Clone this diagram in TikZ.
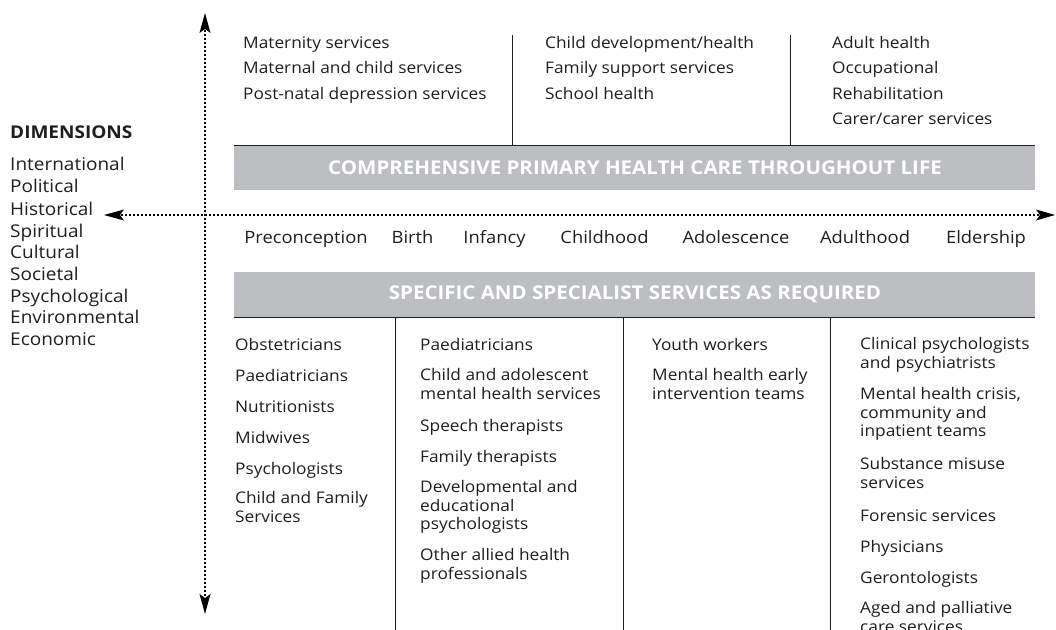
\documentclass[tikz,border=0pt]{standalone}
\usepackage{fontspec}
\setmainfont[FakeStretch=1.08]{Open Sans}
\usetikzlibrary{arrows.meta}
\definecolor{band}{RGB}{189,190,193}
\definecolor{ink}{RGB}{30,30,30}
\begin{document}
\begin{tikzpicture}[x=1pt,y=-1pt,
  base/.style={inner sep=0pt,text=ink,font=\fontsize{16}{18.8}\selectfont,align=left},
  txt/.style={base,anchor=west,text height=14pt,text depth=2pt},
  mtxt/.style={base,anchor=north west},
  dim/.style={anchor=west,inner sep=0pt,text=ink,font=\fontsize{17.6}{20}\selectfont,text height=15pt,text depth=2pt},
  stage/.style={anchor=center,inner sep=0pt,text=ink,font=\fontsize{17}{20}\selectfont,text height=15pt,text depth=2pt},
  bandtxt/.style={text=white,font=\bfseries\fontsize{19}{22}\selectfont,inner sep=0pt},
  axis/.style={line width=2.8pt,dash pattern=on 2.2pt off 1.8pt,black},
  sep/.style={line width=1pt,ink}]
\useasboundingbox (0,0) rectangle (1056,629);
\clip (0,0) rectangle (1056,629);
% bands
\fill[band] (234,145) rectangle (1035,190);
\fill[band] (234,272) rectangle (1035,317);
\node[bandtxt] (b1) at (635,167.5) {COMPREHENSIVE PRIMARY HEALTH CARE THROUGHOUT LIFE};
\node[bandtxt] (b2) at (635,294.5) {SPECIFIC AND SPECIALIST SERVICES AS REQUIRED};
% separators
\draw[sep] (234,145) -- (1035,145);
\draw[sep] (234,317) -- (1035,317);
\coordinate (t1) at (512,35); \coordinate (t1b) at (512,145);
\coordinate (t2) at (790,35); \coordinate (t2b) at (790,145);
\draw[sep] (t1) -- (t1b);
\draw[sep] (t2) -- (t2b);
\foreach \x/\n in {395/a,623/b,830/c}{
  \coordinate (s\n) at (\x,317); \coordinate (e\n) at (\x,640);
  \draw[sep] (s\n) -- (e\n);}
% axes
\coordinate (vt) at (205,13); \coordinate (vb) at (205,614);
\coordinate (hl) at (104,215); \coordinate (hr) at (1055,215);
\draw[axis] (205,30) -- (205,598);
\draw[axis] (121,215) -- (1040,215);
\fill[black] (vt) -- (199.5,33) -- (205,29) -- (210.5,33) -- cycle;
\fill[black] (vb) -- (199.5,594) -- (205,598) -- (210.5,594) -- cycle;
\fill[black] (hl) -- (124,209.5) -- (120,215) -- (124,220.5) -- cycle;
\fill[black] (hr) -- (1036,209.5) -- (1040,215) -- (1036,220.5) -- cycle;
% top texts
\node[txt] (m1) at (243,42) {Maternity services};
\node[txt] (m2) at (243,67) {Maternal and child services};
\node[txt] (m3) at (243,93) {Post-natal depression services};
\node[txt] (c1) at (545,42) {Child development/health};
\node[txt] (c2) at (545,67) {Family support services};
\node[txt] (c3) at (545,93) {School health};
\node[txt] (a1) at (832,42) {Adult health};
\node[txt] (a2) at (832,67) {Occupational};
\node[txt] (a3) at (832,93) {Rehabilitation};
\node[txt] (a4) at (832,118) {Carer/carer services};
% dimensions
\node[dim,font=\bfseries\fontsize{17.6}{20}\selectfont] (dh) at (10,132) {DIMENSIONS};
\foreach \t/\y [count=\i] in {International/164,Political/186,Historical/209,Spiritual/231,Cultural/252,Societal/274,Psychological/296,Environmental/317,Economic/339}{
  \node[dim] (d\i) at (10,\y) {\t};}
% stages
\node[stage] (p1) at (306,237) {Preconception};
\node[stage] (p2) at (412.5,237) {Birth};
\node[stage] (p3) at (494.5,237) {Infancy};
\node[stage] (p4) at (604.5,237) {Childhood};
\node[stage] (p5) at (736,237) {Adolescence};
\node[stage] (p6) at (865,237) {Adulthood};
\node[stage] (p7) at (986,237) {Eldership};
% column 1
\node[txt] (k1) at (235,344) {Obstetricians};
\node[txt] (k2) at (235,375) {Paediatricians};
\node[txt] (k3) at (235,406) {Nutritionists};
\node[txt] (k4) at (235,437) {Midwives};
\node[txt] (k5) at (235,468) {Psychologists};
\node[mtxt] (k6) at (235,491) {Child and Family\\Services};
% column 2
\node[txt] (l1) at (420,344) {Paediatricians};
\node[mtxt] (l2) at (420,368) {Child and adolescent\\mental health services};
\node[txt] (l3) at (420,425) {Speech therapists};
\node[txt] (l4) at (420,456) {Family therapists};
\node[mtxt] (l5) at (420,480) {Developmental and\\educational\\psychologists};
\node[mtxt] (l6) at (420,548) {Other allied health\\professionals};
% column 3
\node[txt] (n1) at (652,344) {Youth workers};
\node[mtxt] (n2) at (652,368) {Mental health early\\intervention teams};
% column 4
\node[mtxt] (q1) at (860,337) {Clinical psychologists\\and psychiatrists};
\node[mtxt] (q2) at (860,387) {Mental health crisis,\\community and\\inpatient teams};
\node[mtxt] (q3) at (860,457) {Substance misuse\\services};
\node[txt] (q4) at (860,515) {Forensic services};
\node[txt] (q5) at (860,546) {Physicians};
\node[txt] (q6) at (860,577) {Gerontologists};
\node[mtxt] (q7) at (860,601) {Aged and palliative\\care services};
\end{tikzpicture}
\end{document}
